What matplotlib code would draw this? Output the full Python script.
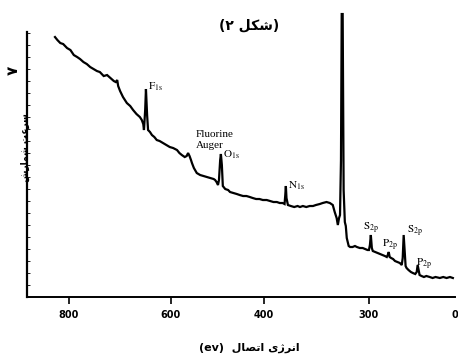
import matplotlib
matplotlib.use("Agg")
import matplotlib.pyplot as plt
from matplotlib.ticker import MultipleLocator

plt.rcParams['mathtext.fontset'] = 'stix'

# طیف XPS - خوانده شده از تصویر
energy = [829, 824, 818, 812, 804, 797, 790, 783, 777, 770, 763, 756, 749, 742, 736, 728, 721, 714,
          707, 703, 700, 698, 694, 688, 684, 680, 673, 667, 660, 653, 649, 646, 644.5, 642, 640.4, 638,
          636, 632, 628, 623, 618, 612, 605, 598, 591, 584, 576, 571, 566, 560, 556, 553, 550, 547, 545,
          541, 535, 528, 521, 514, 507, 500, 497, 494, 491, 489, 486.5, 485, 483, 481, 476, 470, 466,
          459, 452, 446, 439, 432, 425, 419, 412, 405, 398, 390, 383, 376, 369, 363, 357, 353, 351.5,
          350.3, 349, 346, 340, 333, 326, 321, 315, 308, 301, 294, 288, 280, 274, 266, 259, 253, 249,
          245, 242.5, 240, 238, 236, 234.5, 232.5, 230.5, 228, 226, 224, 220, 217, 212, 207, 203, 197,
          191, 186, 181, 178, 176, 174.1, 172, 170, 165, 160, 155, 150, 145, 141, 139, 137, 135, 132,
          128, 124, 119, 114, 110, 108, 106, 104, 102, 100, 96, 91, 87, 82, 79, 77, 75, 73, 69, 64, 59,
          52, 46, 40, 31, 24, 17, 10, 4]
counts = [260, 257, 254, 253, 249, 247, 242, 240, 238, 235, 233, 230, 228, 226, 225, 221, 222, 219,
          216, 215, 217, 211, 206, 200, 197, 194, 191, 187, 183, 180, 177, 173, 167, 187, 208, 182,
          167, 165, 162, 160, 157, 156, 154, 152, 150, 149, 147, 144, 142, 140, 141, 144, 141, 137, 134,
          129, 124, 122, 121, 120, 119, 118, 117, 115, 112, 117, 137, 143, 132, 111, 108, 107, 105,
          104, 103, 102, 101, 101, 100, 99, 98, 98, 97, 97, 96, 95, 95, 94, 94, 93, 102,
          111, 99, 92, 91, 90, 91, 90, 91, 90, 91, 91, 92, 93, 94, 95, 94, 92, 85,
          79, 72, 79, 82, 137, 283, 283, 107, 75, 71, 59, 51, 50, 50, 51, 50, 49,
          49, 48, 47, 47, 52, 62, 49, 46, 45, 44, 43, 42, 41, 40, 42, 45, 40, 39,
          38, 36, 35, 34, 32, 39, 62, 47, 31, 29, 27, 25, 24, 23, 25, 32, 27, 22, 21, 20, 21,
          20, 19, 20, 19, 20, 19, 20, 19]

# برچسب قله‌ها
peak_labels = [r'$\mathrm{F_{1s}}$', 'Fluorine\nAuger', r'$\mathrm{O_{1s}}$', r'$\mathrm{N_{1s}}$',
               r'$\mathrm{S_{2p}}$', r'$\mathrm{P_{2p}}$', r'$\mathrm{S_{2p}}$', r'$\mathrm{P_{2p}}$']
label_x = [636, 537, 481, 346, 191, 151, 99.5, 81]
label_y = [210, 157, 142, 111, 69, 52, 66, 33]

tick_pos = [800, 588.6, 395.8, 178.2, 0]
tick_lbl = ['800', '600', '400', '300', '0']

# متن فارسی (شکل‌های نمایشی، به ترتیب دیداری)
title_txt = '(\u06f2 ' + '\ufede\ufb91\ufeb7' + ')'
xlabel_txt = '(ev)  ' + '\ufedd\ufe8e\ufebc\ufe97\ufe8d' + ' ' + '\ufbfc\ufb8a\ufeae\ufee7\ufe8d'
ylabel_txt = '\ufeb5\ufead\ufe8e\ufee4\ufeb7' + ' ' + '\ufe96\ufecb\ufeae\ufeb3'

fig = plt.figure(figsize=(4.58, 3.6), dpi=100)
ax = fig.add_axes([0.059, 0.175, 0.934, 0.736])

ax.plot(energy, counts, color='black', lw=1.6, solid_joinstyle='miter', clip_on=False)

for t, x, y in zip(peak_labels, label_x, label_y):
    ax.text(x, y, t, fontsize=8, family='Liberation Serif', ha='left', va='center')

ax.set_xlim(887, 0)
ax.set_ylim(0, 265)
ax.set_xticks(tick_pos)
ax.set_xticklabels(tick_lbl, fontsize=7, fontweight='bold')
ax.set_yticks([])
ax.yaxis.set_minor_locator(MultipleLocator(12))
ax.tick_params(axis='y', which='minor', length=2, width=0.6, direction='in')
ax.tick_params(axis='x', length=5, width=1.2, direction='out', pad=4)
ax.xaxis.get_major_ticks()[-1].tick1line.set_visible(False)

for s in ['top', 'right']:
    ax.spines[s].set_visible(False)
ax.spines['left'].set_linewidth(1.6)
ax.spines['bottom'].set_linewidth(1.4)

fig.text(0.545, 0.93, title_txt, ha='center', va='center', fontsize=10, fontweight='bold',
         family='DejaVu Sans')
fig.text(0.545, 0.033, xlabel_txt, ha='center', va='center', fontsize=8, fontweight='bold',
         family='DejaVu Sans')
fig.text(0.055, 0.59, ylabel_txt, ha='center', va='center', rotation=90, fontsize=6.5,
         fontweight='bold', family='DejaVu Sans')
fig.text(0.03, 0.805, '\u06f7', ha='center', va='center', rotation=90, fontsize=11,
         fontweight='bold', family='DejaVu Sans')

fig.savefig('out.png', dpi=100)
